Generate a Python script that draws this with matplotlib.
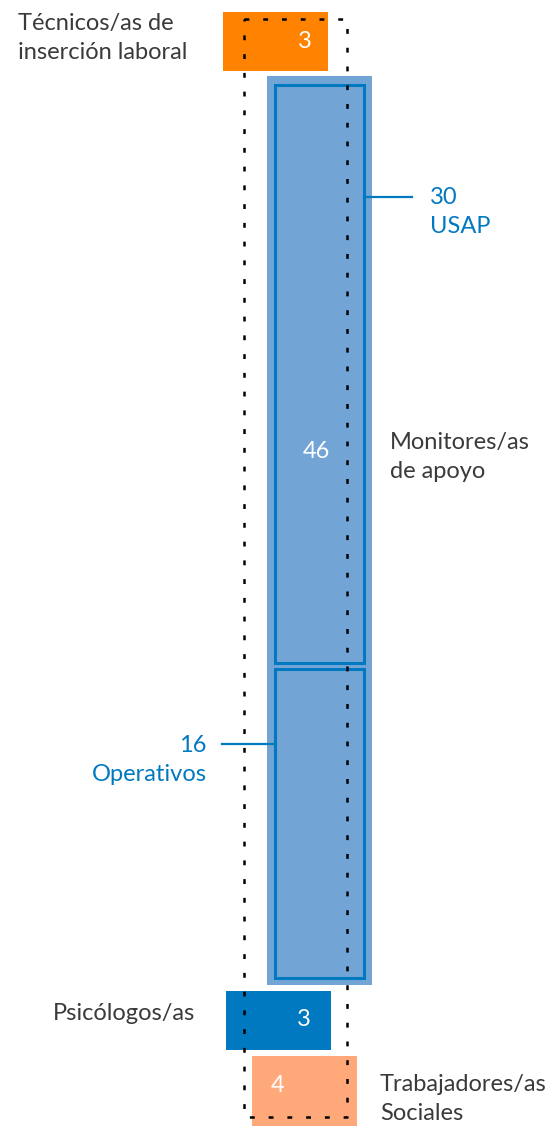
import matplotlib.pyplot as plt
from matplotlib.patches import Rectangle

# data
categories = ['Técnicos/as de\ninserción laboral', 'Monitores/as\nde apoyo',
              'Psicólogos/as', 'Trabajadores/as\nSociales']
counts = [3, 46, 3, 4]
sub_labels = ['USAP', 'Operativos']
sub_counts = [30, 16]

colors = ['#FF8300', '#72A5D5', '#0079C1', '#FFA87A']
edge_blue = '#0079C1'
text_dark = '#3a3a3a'
font = 'Lato'
fs = 17
ls = 1.5


def main():
    plt.rcParams['lines.scale_dashes'] = False
    fig = plt.figure(figsize=(5.49, 11.26), dpi=100)
    ax = fig.add_axes([0, 0, 1, 1])
    ax.set_xlim(0, 549)
    ax.set_ylim(1126, 0)
    ax.axis('off')

    unit = 909 / counts[1]      # px per person
    width = 105
    tops = [12, 76, 991, 1056]
    lefts = [223, 267, 226, 252]
    value_pos = [(305, 41), (316, 451), (304, 1020), (278, 1085)]

    for i, n in enumerate(counts):
        h = n * unit
        ax.add_patch(Rectangle((lefts[i], tops[i]), width, h,
                               facecolor=colors[i], edgecolor='none', zorder=1))
        ax.text(value_pos[i][0], value_pos[i][1], str(n), color='white',
                fontsize=fs, family=font, ha='center', va='center', zorder=4)

    # sub groups inside monitores
    inner_unit = (893 - 6) / counts[1]
    y = tops[1] + 9
    for n in sub_counts:
        h = n * inner_unit
        ax.add_patch(Rectangle((lefts[1] + 8, y), width - 16, h,
                               facecolor='none', edgecolor=edge_blue,
                               linewidth=2.2, zorder=2))
        y += h + 6

    # callouts
    ax.plot([lefts[1] + width - 8, 412], [197, 197], color=edge_blue, lw=1.6, zorder=2)
    ax.text(430, 212, f'{sub_counts[0]}\n{sub_labels[0]}', color=edge_blue,
            fontsize=fs, family=font, ha='left', va='center', linespacing=ls)
    ax.plot([222, lefts[1] + 8], [744, 744], color=edge_blue, lw=1.6, zorder=2)
    ax.text(207, 760, f'{sub_counts[1]}\n{sub_labels[1]}', color=edge_blue,
            fontsize=fs, family=font, ha='right', va='center', linespacing=ls)

    # category labels
    label_pos = [(18, 38, 'left'), (390, 457, 'left'), (195, 1013, 'right'),
                 (380, 1099, 'left')]
    for lab, (x, yy, ha) in zip(categories, label_pos):
        ax.text(x, yy, lab, color=text_dark, fontsize=fs, family=font,
                ha=ha, va='center', linespacing=ls)

    # dotted frame
    fx0, fx1, fy0, fy1 = 244, 347, 19, 1117
    ax.plot([fx0, fx1, fx1, fx0, fx0], [fy0, fy0, fy1, fy1, fy0], color='black',
            lw=1.8, linestyle=(0, (3.5, 10)), zorder=5)

    fig.savefig('out.png', dpi=100)


if __name__ == "__main__":
    main()
